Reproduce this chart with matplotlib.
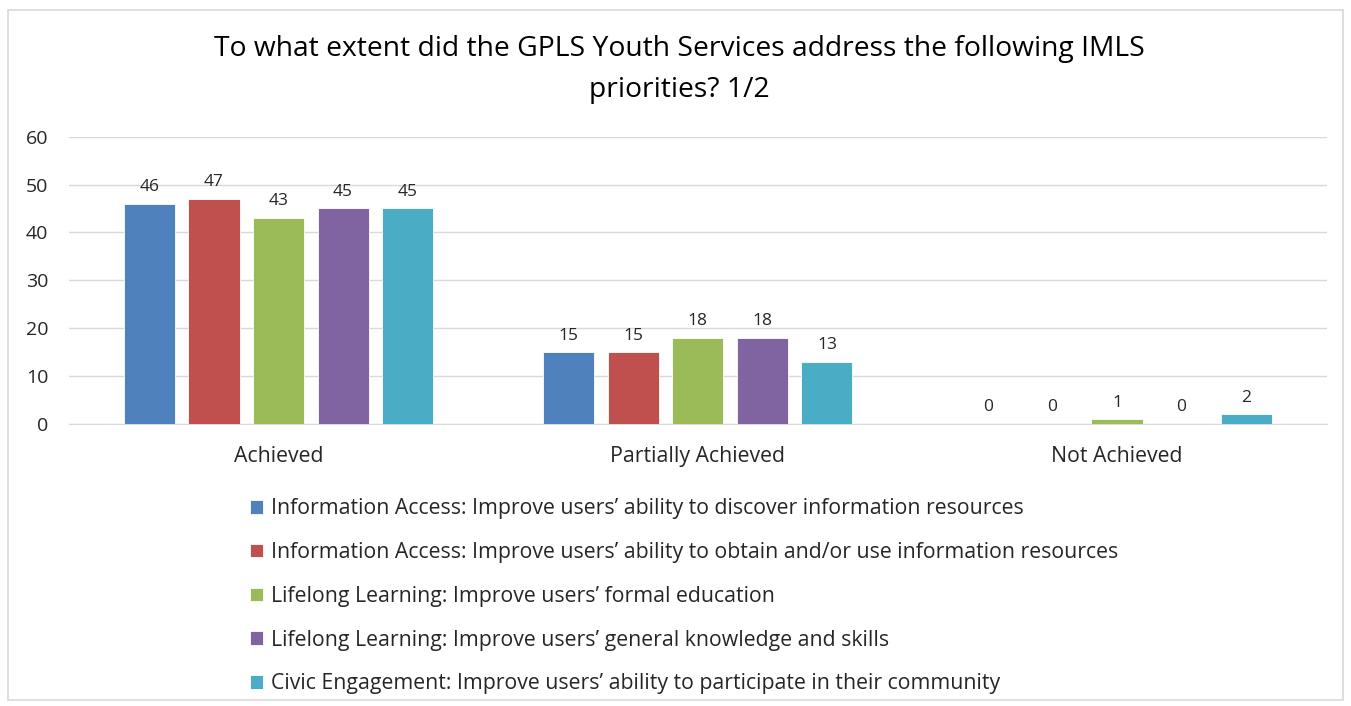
import matplotlib.pyplot as plt
import matplotlib.patches as mpatches
import numpy as np

plt.rcParams['font.family'] = ['Open Sans', 'DejaVu Sans']

# --- Data ---
categories = ['Achieved', 'Partially Achieved', 'Not Achieved']
series_names = [
    'Information Access: Improve users\u2019 ability to discover information resources',
    'Information Access: Improve users\u2019 ability to obtain and/or use information resources',
    'Lifelong Learning: Improve users\u2019 formal education',
    'Lifelong Learning: Improve users\u2019 general knowledge and skills',
    'Civic Engagement: Improve users\u2019 ability to participate in their community',
]
discover = [46, 15, 0]
obtain_use = [47, 15, 0]
formal_ed = [43, 18, 1]
general_knowledge = [45, 18, 0]
civic = [45, 13, 2]
series_values = [discover, obtain_use, formal_ed, general_knowledge, civic]
colors = ['#4F81BD', '#C0504D', '#9BBB59', '#8064A2', '#4BACC6']
y_ticks = [0, 10, 20, 30, 40, 50, 60]

# --- Plot ---
fig = plt.figure(figsize=(13.51, 7.06), dpi=100)
ax = fig.add_axes([0.051, 0.3994, 0.931, 0.4071])

x = np.arange(len(categories))
width = 0.122
step = 0.154
handles = []
for i, (vals, col) in enumerate(zip(series_values, colors)):
    pos = x + (i - 2) * step
    bars = ax.bar(pos, vals, width=width, color=col, edgecolor='#ffffff',
                  linewidth=0.6, zorder=3, label=series_names[i])
    handles.append(bars)
    for xp, v in zip(pos, vals):
        ax.text(xp, v + 1.8, f'{v}', ha='center', va='bottom',
                fontsize=12.5, color='#262626')

ax.set_xlim(-0.5, 2.5)
ax.set_ylim(0, 60)
ax.set_yticks(y_ticks)
ax.set_xticks(x)
ax.set_xticklabels(categories, fontsize=15.3, color='#262626')
ax.tick_params(axis='y', labelsize=14, colors='#262626', length=0, pad=15)
ax.tick_params(axis='x', length=0, pad=16)
for s in ['top', 'right', 'left']:
    ax.spines[s].set_visible(False)
ax.spines['bottom'].set_color('#d9d9d9')
ax.grid(axis='y', color='#d9d9d9', linewidth=1, zorder=0)
ax.set_axisbelow(True)

# Title
fig.text(0.503, 0.951, 'To what extent did the GPLS Youth Services address the following IMLS\npriorities? 1/2',
         ha='center', va='top', fontsize=20.3, color='#000000', linespacing=1.62)

# Legend
fig.legend(handles=handles, labels=series_names, loc='upper left',
           bbox_to_anchor=(0.171, 0.321), frameon=False, fontsize=15.3,
           handlelength=0.6, handleheight=0.6, handletextpad=0.4,
           labelspacing=1.07, labelcolor='#262626')

# Outer frame
fig.patches.append(mpatches.Rectangle((0.006, 0.008), 0.988, 0.978, transform=fig.transFigure,
                                      fill=False, edgecolor='#d9d9d9', linewidth=1.2))

plt.savefig('out.png', dpi=100, facecolor='#ffffff')
